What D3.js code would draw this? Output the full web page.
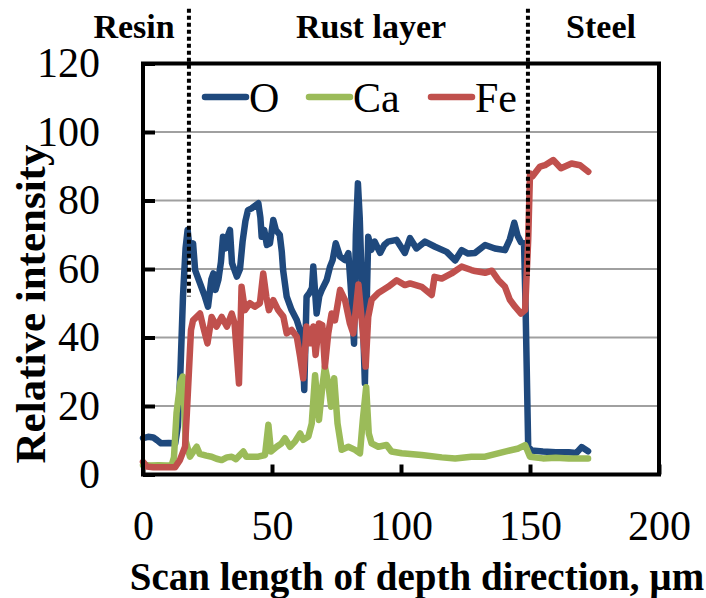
<!DOCTYPE html>
<html>
<head>
<meta charset="utf-8">
<script src="https://cdn.jsdelivr.net/npm/d3@7"></script>
<style>
  body { margin: 0; background: #fff; }
  svg { display: block; font-family: "Liberation Serif", "Times New Roman", serif; }
</style>
</head>
<body>
<div id="chart"></div>
<script>
// data: [depth µm, relative intensity]
const oxygen = [[0,10.6],[2,11],[4,10.8],[5.5,10],[7,9.1],[10,9.2],[12.5,9.1],[13.5,14],[14.5,30],[15.5,52],[16.5,66],[17.3,71.4],[18.3,64],[19.4,67.5],[20.2,59.7],[22,56],[24,51.9],[25.2,49],[26.5,57],[27.3,58.7],[28.1,53.9],[29.2,56.8],[30.2,62],[31,69.4],[32,66],[33,69.9],[33.7,71.4],[34.5,61.7],[36.4,57.8],[37.6,60],[38.6,68],[39.7,74],[40.7,77.2],[42.1,77.7],[44.7,79.2],[45.5,75],[46,69.4],[47,71.4],[48,67],[49.2,67.5],[50.5,74.3],[51.5,71.4],[53,70],[53.8,65],[54.3,59.7],[55.7,51.9],[57.6,48],[59.6,45.1],[61.3,41],[62,35],[62.5,24.7],[63.4,51.9],[64.5,53],[65.5,54.5],[66,60.7],[67.3,47],[68.3,52],[69.3,53.9],[71.2,56.8],[72.5,60.7],[73.5,62.6],[74.7,67.5],[76.4,63.6],[78.3,62.6],[79.6,64.6],[80.5,55],[81.8,38.2],[82.5,70],[83.3,85],[84,75],[85,51],[86,26.6],[87.3,69.4],[88.5,65.6],[89.8,68],[91.9,64.7],[93.5,67],[95,68],[98.3,68.5],[101.5,64.7],[103.5,69],[106,66],[109.3,68],[113.2,66.5],[117.7,65],[121,62.5],[123.5,65.5],[126,64.5],[128.7,64.7],[132.6,67],[136.4,66],[140.3,65.5],[142.2,68.7],[143.9,73.5],[145.2,69.7],[146.5,67.8],[147.7,67.5],[148.3,48.3],[149.3,8.1],[150.6,7],[155,6.7],[160,6.5],[165,6.5],[168,6.3],[170,8],[172.5,6.8]];

const calcium = [[0,2.8],[3,2.6],[6,2.7],[9,2.6],[11.1,2.7],[12,5],[13,18],[14.5,27],[15.4,28.6],[16,20],[16.5,10],[18.2,5.2],[20.8,8.1],[22,6],[24.5,5.5],[26.6,5.2],[28.5,4.6],[30.5,4.2],[32.5,5],[34.4,5.2],[36,4.5],[38.9,6.7],[40,5.2],[42.1,5.2],[44.7,5.2],[47.3,5.7],[48.6,14.5],[49.6,6.7],[51.8,8.1],[53.7,9.1],[55,10.6],[57,8.1],[58.9,9.6],[60.9,12],[62.1,10.1],[64.1,11.1],[65.4,14.9],[66.7,29],[68.2,15.9],[69.5,25.6],[70.5,31.5],[71.8,26.6],[72.9,19.8],[74.1,28.1],[75.4,14.9],[77,7.2],[79.6,8.1],[82.2,7.2],[84.1,6.2],[85.2,16],[86.5,25.5],[87.5,12],[88.6,9.1],[91.2,8.1],[94.4,8.6],[96.3,6.7],[100.3,6.2],[108,5.7],[115.8,5],[121,4.7],[127.3,5.2],[132.6,5.2],[140.3,6.7],[145.5,7.6],[148.1,8.6],[150,5.2],[155,4.7],[160,4.9],[165,4.7],[172.5,4.7]];

const iron = [[0,3.7],[1.5,2.3],[4,2.1],[8,2.1],[12.4,2.1],[14.3,4.2],[16.3,8.1],[17,17.9],[18.6,42.2],[19.4,45],[22.1,47],[23.3,43.2],[25,38.3],[26.6,46],[28.5,43.2],[30.5,46],[32.5,43.2],[34.4,47],[35.5,44.1],[37.2,26.6],[38.2,54.8],[39.5,48],[41.4,50],[43.3,49],[45.3,50],[46.6,58.7],[47.8,51.9],[48.8,48],[50.5,50.9],[52.4,48],[54.4,46.1],[55.7,41.2],[57.6,42.2],[59.6,40.2],[60.9,34.4],[62.1,28.1],[63.4,43.2],[64.7,38.3],[66,43.2],[66.9,34.9],[68.2,44.1],[69.5,43.6],[70.5,31.5],[71.8,41.2],[73.1,47],[74.4,45],[76.4,53.9],[78.3,50.9],[80.2,44.1],[81.5,41.2],[82.2,46],[83.5,55.5],[84.8,45],[86.3,31.5],[87.3,46],[88.6,51],[91.2,53],[95,54.8],[98.3,56.7],[101.5,55.3],[103.5,55.8],[108,54.8],[111.9,52.4],[113,57.7],[115.8,57.2],[119.6,58.7],[123.5,60.7],[127.3,59.7],[128.7,59.4],[132.6,58.9],[135.2,59.5],[137.7,56.8],[140.3,54.8],[142.2,51],[144.2,49],[146.5,47],[148.1,48],[149.3,68.5],[150,87.9],[150.9,87],[153.9,89.9],[155.8,90.3],[159,91.8],[162,89.4],[166.1,90.8],[169.4,90.3],[172.6,88.4]];

const seriesNames = ["O", "Ca", "Fe"];
const xTicks = [0, 50, 100, 150, 200];
const yTicks = [0, 20, 40, 60, 80, 100, 120];
// boundaries between regions: [depth, top value, bottom value]
const boundaries = [[17.8, 136, 52], [149.2, 136, 58]];
const regions = ["Resin", "Rust layer", "Steel"];

const width = 706;
const height = 598;
const margin = { top: 63.5, right: 47, bottom: 123.5, left: 143 };
const colors = { O: "#1f497d", Ca: "#9bbb59", Fe: "#c0504d" };

const svg = d3.select("#chart")
  .append("svg")
  .attr("width", width)
  .attr("height", height);

const x = d3.scaleLinear()
  .domain([0, 200])
  .range([margin.left, width - margin.right]);

const y = d3.scaleLinear()
  .domain([0, 120])
  .range([height - margin.bottom, margin.top]);

// grid
svg.append("g")
  .selectAll("line")
  .data(yTicks.filter(d => d > 0 && d < 120))
  .join("line")
  .attr("x1", x(0))
  .attr("x2", x(200))
  .attr("y1", d => y(d))
  .attr("y2", d => y(d))
  .attr("stroke", "#a0a0a0")
  .attr("stroke-width", 2);

// Y axis
const yAxis = svg.append("g")
  .attr("transform", `translate(${margin.left},0)`)
  .call(d3.axisLeft(y).tickValues(yTicks).tickSize(-12).tickPadding(43));
yAxis.select(".domain").remove();
yAxis.selectAll("line").attr("stroke", "#000").attr("stroke-width", 4);
yAxis.selectAll("text")
  .style("font-family", "Liberation Serif")
  .style("font-size", "42px")
  .attr("fill", "#000");

// X axis
const xAxis = svg.append("g")
  .attr("transform", `translate(0,${height - margin.bottom})`)
  .call(d3.axisBottom(x).tickValues(xTicks).tickSize(-10).tickPadding(36));
xAxis.select(".domain").remove();
xAxis.selectAll("line").attr("stroke", "#000").attr("stroke-width", 4);
xAxis.selectAll("text")
  .style("font-family", "Liberation Serif")
  .style("font-size", "42px")
  .attr("fill", "#000");

// lines
const line = d3.line()
  .x(d => x(d[0]))
  .y(d => y(d[1]));

[["O", oxygen], ["Ca", calcium], ["Fe", iron]].forEach(([name, data]) => {
  svg.append("path")
    .datum(data)
    .attr("fill", "none")
    .attr("stroke", colors[name])
    .attr("stroke-width", 6.5)
    .attr("stroke-linejoin", "round")
    .attr("stroke-linecap", "round")
    .attr("d", line);
});

// frame
svg.append("rect")
  .attr("x", x(0))
  .attr("y", y(120))
  .attr("width", x(200) - x(0))
  .attr("height", y(0) - y(120))
  .attr("fill", "none")
  .attr("stroke", "#000")
  .attr("stroke-width", 4);

// boundary lines
svg.append("g")
  .selectAll("line")
  .data(boundaries)
  .join("line")
  .attr("x1", d => x(d[0]))
  .attr("x2", d => x(d[0]))
  .attr("y1", d => y(d[1]))
  .attr("y2", d => y(d[2]))
  .attr("stroke", "#000")
  .attr("stroke-width", 4)
  .attr("stroke-dasharray", "4,3");

// region labels
svg.append("g")
  .selectAll("text")
  .data(regions)
  .join("text")
  .attr("x", (d, i) => [134, 371, 601][i])
  .attr("y", 38)
  .attr("text-anchor", "middle")
  .style("font-size", "34px")
  .style("font-weight", "bold")
  .text(d => d);

// legend
const legend = svg.append("g").attr("transform", "translate(205,97)");
const legendX = [0, 104, 226];
seriesNames.forEach((name, i) => {
  const g = legend.append("g").attr("transform", `translate(${legendX[i]},0)`);
  g.append("line")
    .attr("x1", 0).attr("x2", 41)
    .attr("stroke", colors[name])
    .attr("stroke-width", 6.5)
    .attr("stroke-linecap", "round");
  g.append("text")
    .attr("x", 44)
    .attr("y", 15)
    .style("font-size", "42px")
    .text(name);
});

// Y axis label
svg.append("text")
  .attr("transform", "rotate(-90)")
  .attr("x", -304)
  .attr("y", 45)
  .attr("text-anchor", "middle")
  .style("font-size", "43px")
  .style("font-weight", "bold")
  .text("Relative intensity");

// X axis label
svg.append("text")
  .attr("x", 417)
  .attr("y", 590)
  .attr("text-anchor", "middle")
  .style("font-size", "39px")
  .style("font-weight", "bold")
  .text("Scan length of depth direction, µm");
</script>
</body>
</html>
